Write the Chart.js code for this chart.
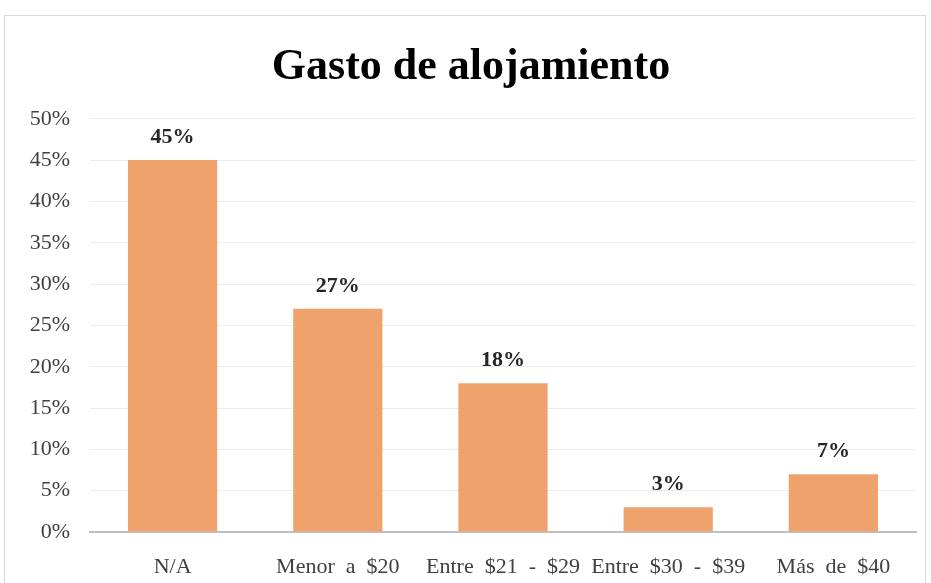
<!DOCTYPE html>
<html>
<head>
<meta charset="utf-8">
<script src="https://cdn.jsdelivr.net/npm/chart.js@4/dist/chart.umd.min.js"></script>
<style>
  html, body { margin: 0; padding: 0; background: #ffffff; }
  #frame { position: absolute; left: 4px; top: 15px; width: 922px; height: 575px; border: 1px solid #d9d9d9; box-sizing: border-box; }
  #wrap { position: absolute; left: 0; top: 0; width: 931px; height: 583px; }
</style>
</head>
<body>
<div id="frame"></div>
<div id="wrap"><canvas id="chart"></canvas></div>
<script>
// Data
var categories = ['N/A', 'Menor  a  $20', 'Entre  $21  -  $29', 'Entre  $30  -  $39', 'Más  de  $40'];
var values = [45, 27, 18, 3, 7];
var yTicks = [0, 5, 10, 15, 20, 25, 30, 35, 40, 45, 50];

var barColor = 'rgb(240, 162, 108)';
var serif = '"Liberation Serif", "Times New Roman", serif';

// draws the bold % label over each bar
var valueLabels = {
  id: 'valueLabels',
  afterDatasetsDraw: function(chart) {
    var ctx = chart.ctx;
    var meta = chart.getDatasetMeta(0);
    ctx.save();
    ctx.font = 'bold 22px ' + serif;
    ctx.fillStyle = '#262626';
    ctx.textAlign = 'center';
    ctx.textBaseline = 'middle';
    meta.data.forEach(function(bar, i) {
      ctx.fillText(values[i] + '%', bar.x, bar.y - 23);
    });
    ctx.restore();
  }
};

new Chart(document.getElementById('chart'), {
  type: 'bar',
  data: {
    labels: categories,
    datasets: [{
      data: values,
      backgroundColor: barColor,
      borderWidth: 0,
      categoryPercentage: 1,
      barPercentage: 0.54
    }]
  },
  options: {
    responsive: true,
    maintainAspectRatio: false,
    animation: false,
    layout: { padding: { top: 15, right: 15, bottom: 0, left: 26 } },
    plugins: {
      legend: { display: false },
      tooltip: { enabled: false },
      title: {
        display: true,
        text: 'Gasto de alojamiento',
        color: '#000000',
        font: { family: serif, size: 44, weight: 'bold' },
        padding: { top: 26, bottom: 25 }
      }
    },
    scales: {
      x: {
        afterFit: function(scale) { scale.height = 51; },
        grid: { display: false },
        border: { color: '#bfbfbf', width: 2 },
        ticks: {
          color: '#404040',
          font: { family: serif, size: 22 },
          padding: 14,
          maxRotation: 0,
          autoSkip: false
        }
      },
      y: {
        min: 0,
        max: 50,
        afterFit: function(scale) { scale.width = 64; },
        afterBuildTicks: function(scale) {
          scale.ticks = yTicks.map(function(v) { return { value: v }; });
        },
        grid: { color: '#ececec', lineWidth: 1, drawTicks: false },
        border: { display: false },
        ticks: {
          color: '#404040',
          font: { family: serif, size: 22 },
          padding: 20,
          callback: function(v) { return v + '%'; }
        }
      }
    }
  },
  plugins: [valueLabels]
});
</script>
</body>
</html>
